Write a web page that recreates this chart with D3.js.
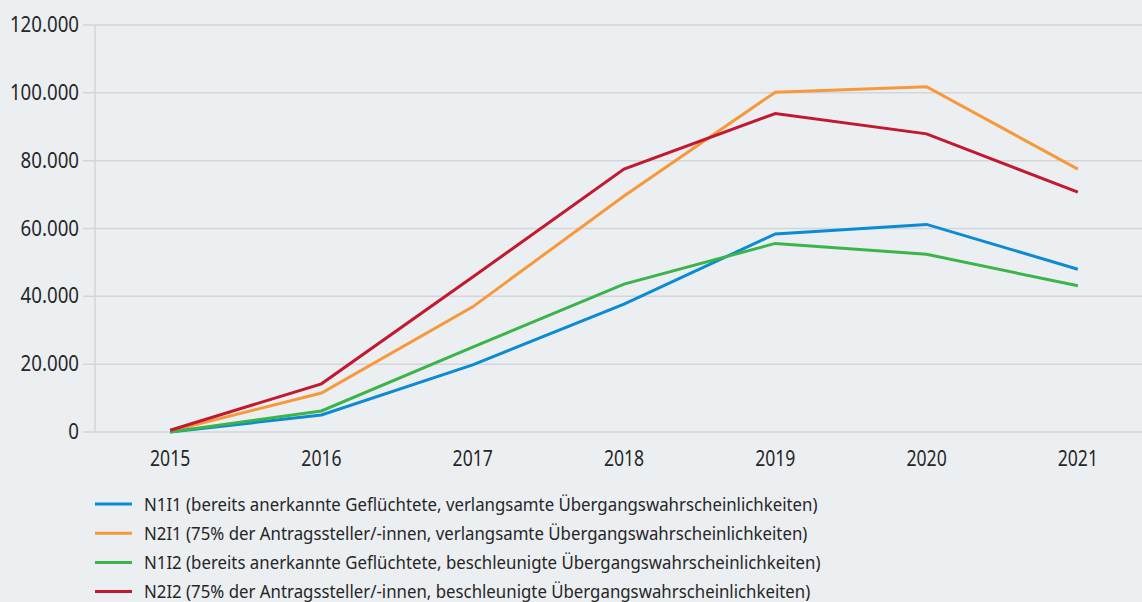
<!DOCTYPE html>
<html>
<head>
<meta charset="utf-8">
<script src="https://cdn.jsdelivr.net/npm/d3@7"></script>
<style>
  body { margin: 0; background: #eceff2; }
  svg { display: block; font-family: "Noto Sans", sans-serif; }
</style>
</head>
<body>
<div id="chart"></div>
<script>
const years = ['2015', '2016', '2017', '2018', '2019', '2020', '2021'];
const yTicks = [0, 20000, 40000, 60000, 80000, 100000, 120000];

const n1i1 = [0, 5000, 19800, 37700, 58400, 61200, 48000];
const n2i1 = [300, 11500, 36900, 69600, 100200, 101800, 77500];
const n1i2 = [0, 6200, 25000, 43600, 55600, 52400, 43100];
const n2i2 = [500, 14200, 45700, 77500, 93900, 87900, 70700];

const seriesNames = [
    'N1I1 (bereits anerkannte Geflüchtete, verlangsamte Übergangswahrscheinlichkeiten)',
    'N2I1 (75% der Antragssteller/-innen, verlangsamte Übergangswahrscheinlichkeiten)',
    'N1I2 (bereits anerkannte Geflüchtete, beschleunigte Übergangswahrscheinlichkeiten)',
    'N2I2 (75% der Antragssteller/-innen, beschleunigte Übergangswahrscheinlichkeiten)'
];
const seriesColors = ['#0b8bd3', '#f7983a', '#3bb54a', '#c1192f'];

const series = [n1i1, n2i1, n1i2, n2i2].map((values, i) => ({
    name: seriesNames[i], color: seriesColors[i], values: values
}));

const width = 1142, height = 602;
const svg = d3.select('#chart').append('svg').attr('width', width).attr('height', height);

const x = d3.scalePoint().domain(years).range([94.5, 1153.5]).padding(0.5);
const y = d3.scaleLinear().domain([0, 120000]).range([432, 25]);
const fmt = v => d3.format(',')(v).replace(/,/g, '.');

// grid
svg.append('g').selectAll('line').data(yTicks).enter().append('line')
    .attr('x1', 83).attr('x2', width)
    .attr('y1', d => y(d)).attr('y2', d => y(d))
    .attr('stroke', '#d3d5d8').attr('stroke-width', 1.5);

svg.append('line').attr('x1', 95).attr('x2', 95).attr('y1', y(120000)).attr('y2', y(0))
    .attr('stroke', '#d3d5d8').attr('stroke-width', 1.5);

// y labels (narrowed to mimic the condensed face)
svg.append('g').selectAll('text').data(yTicks).enter().append('text')
    .attr('transform', d => 'translate(79,' + (y(d) + 7) + ') scale(0.89,1)')
    .attr('text-anchor', 'end').attr('font-size', 21).attr('fill', '#262626')
    .text(d => fmt(d));

// x labels
svg.append('g').selectAll('text').data(years).enter().append('text')
    .attr('transform', d => 'translate(' + x(d) + ',466) scale(0.8,1)')
    .attr('text-anchor', 'middle').attr('font-size', 22).attr('fill', '#262626')
    .text(d => d);

const line = d3.line().x((d, i) => x(years[i])).y(d => y(d));

svg.append('g').selectAll('path').data(series).enter().append('path')
    .attr('d', d => line(d.values))
    .attr('fill', 'none').attr('stroke', d => d.color).attr('stroke-width', 3);

// legend
const legend = svg.append('g').selectAll('g').data(series).enter().append('g')
    .attr('transform', (d, i) => 'translate(95,' + (504 + i * 29.2) + ')');
legend.append('line').attr('x1', 0).attr('x2', 37).attr('y1', 0).attr('y2', 0)
    .attr('stroke', d => d.color).attr('stroke-width', 3);
legend.append('text').attr('transform', 'translate(49,6.5) scale(0.885,1)')
    .attr('font-size', 19).attr('fill', '#262626')
    .text(d => d.name);
</script>
</body>
</html>
